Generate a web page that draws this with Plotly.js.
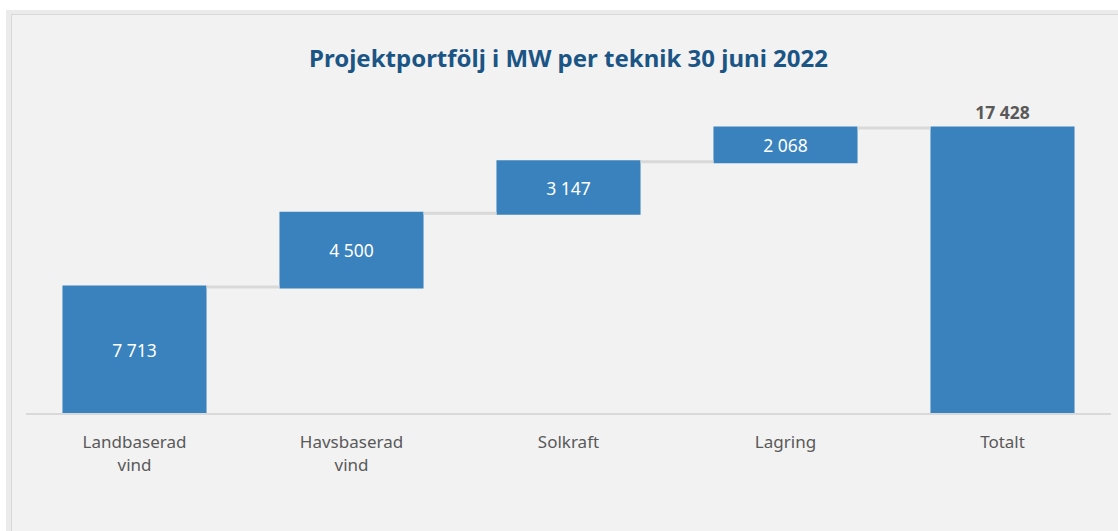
<!DOCTYPE html>
<html>
<head>
<meta charset="utf-8">
<script src="https://cdn.plot.ly/plotly-3.0.1.min.js"></script>
<style>
  html, body { margin: 0; padding: 0; background: #ffffff; }
  #frame { position: absolute; left: 6px; top: 10px; width: 1112px; height: 521px; background: #ebebeb; }
  #chart { position: absolute; left: 11px; top: 14px; width: 1107px; height: 517px; border-left: 1px solid #d9d9d9; border-top: 1px solid #d9d9d9; box-sizing: border-box; }
</style>
</head>
<body>
<div id="frame"></div>
<div id="chart"></div>
<script>
const categories = ["Landbaserad<br>vind", "Havsbaserad<br>vind", "Solkraft", "Lagring", "Totalt"];
const values = [7713, 4500, 3147, 2068, 0];
const measures = ["relative", "relative", "relative", "relative", "total"];
const totalValue = 17428;

function fmt(v) { return String(v).replace(/\B(?=(\d{3})+(?!\d))/g, " "); }
const labels = values.map((v, i) => measures[i] === "total" ? "<b>" + fmt(totalValue) + "</b>" : fmt(v));

const barColor = "#3982be";
const trace = {
  type: "waterfall",
  x: categories,
  y: values,
  measure: measures,
  text: labels,
  textposition: ["inside", "inside", "inside", "inside", "outside"],
  insidetextanchor: "middle",
  insidetextfont: { color: "#ffffff", size: 17.5, family: "Noto Sans, sans-serif" },
  outsidetextfont: { color: "#595959", size: 17.5, family: "Noto Sans, sans-serif" },
  cliponaxis: false,
  increasing: { marker: { color: barColor } },
  decreasing: { marker: { color: barColor } },
  totals: { marker: { color: barColor } },
  connector: { mode: "between", line: { color: "#d9d9d9", width: 3 } },
  hoverinfo: "none"
};

const layout = {
  width: 1107, height: 517,
  paper_bgcolor: "#f2f2f2",
  plot_bgcolor: "#f2f2f2",
  margin: { l: 14, r: 8, t: 71, b: 119 },
  waterfallgap: 0.336,
  showlegend: false,
  title: {
    text: "<b>Projektportfölj i MW per teknik 30 juni 2022</b>",
    font: { family: "Noto Sans, sans-serif", size: 24, color: "#1b5585" },
    x: 0.5, xanchor: "center", xref: "paper",
    y: 1 - 44 / 517, yanchor: "middle", yref: "container"
  },
  xaxis: {
    type: "category",
    showgrid: false, zeroline: false,
    showline: true, linecolor: "#d9d9d9", linewidth: 2,
    ticks: "",
    ticklabelstandoff: 13,
    tickfont: { family: "Noto Sans, sans-serif", size: 17, color: "#595959" }
  },
  yaxis: {
    range: [0, 20000],
    visible: false, showgrid: false, zeroline: false, fixedrange: true
  }
};

Plotly.newPlot("chart", [trace], layout, { staticPlot: true, displayModeBar: false });
</script>
</body>
</html>
